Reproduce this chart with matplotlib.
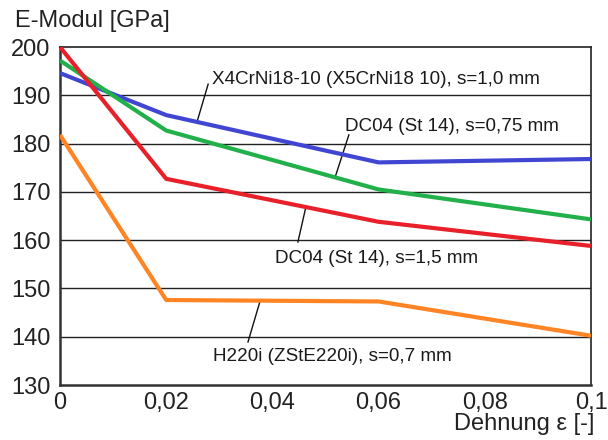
import numpy as np
import matplotlib.pyplot as plt

plt.rcParams['font.family'] = ['Liberation Sans', 'DejaVu Sans']

# Elastic modulus vs. strain for four sheet materials
dehnung = [0.0, 0.02, 0.06, 0.1]
x4crni = [194.6, 185.9, 176.1, 176.8]
dc04_075 = [197.2, 182.7, 170.5, 164.3]
dc04_15 = [200.0, 172.7, 163.8, 158.8]
h220i = [181.8, 147.6, 147.3, 140.2]

labels = ['X4CrNi18-10 (X5CrNi18 10), s=1,0 mm',
          'DC04 (St 14), s=0,75 mm',
          'DC04 (St 14), s=1,5 mm',
          'H220i (ZStE220i), s=0,7 mm']
colors = ['#4046d2', '#22b04a', '#e8202a', '#ff8424']
series = [x4crni, dc04_075, dc04_15, h220i]

xticks = [0, 0.02, 0.04, 0.06, 0.08, 0.1]
xticklabels = ['0', '0,02', '0,04', '0,06', '0,08', '0,1']
yticks = [130, 140, 150, 160, 170, 180, 190, 200]

fig = plt.figure(figsize=(6.08, 4.4), dpi=100)
ax = fig.add_axes([60 / 608, 1 - 385 / 440, 531 / 608, 338 / 440])

for y in yticks[1:-1]:
    ax.axhline(y, color='#222222', lw=1.0, zorder=1)

for vals, c in zip(series, colors):
    ax.plot(dehnung, vals, color=c, lw=3.0, zorder=3, solid_capstyle='butt')

# label text position and leader line (start point, x where it meets the curve)
label_pos = [(0.0286, 193.2), (0.0537, 183.6), (0.0405, 156.3), (0.0288, 135.8)]
leader = [((0.0279, 192.3), 0.0258), ((0.0544, 181.8), 0.0518),
          ((0.0448, 159.6), 0.0463), ((0.0354, 138.9), 0.0377)]

for vals, text, pos, (start, xe) in zip(series, labels, label_pos, leader):
    ax.text(pos[0], pos[1], text, fontsize=13.6, va='center', ha='left',
            color='#1a1a1a', zorder=4)
    ye = np.interp(xe, dehnung, vals)
    ax.plot([start[0], xe], [start[1], ye], color='#111111', lw=1.0, zorder=2)

ax.set_xlim(0, 0.1)
ax.set_ylim(130, 200)
ax.set_xticks(xticks)
ax.set_xticklabels(xticklabels)
ax.set_yticks(yticks)
ax.tick_params(length=0, labelsize=17, colors='#222222')
ax.tick_params(axis='y', pad=7)
ax.tick_params(axis='x', pad=5)

for side in ['left', 'bottom']:
    ax.spines[side].set_linewidth(1.8)
    ax.spines[side].set_color('#333333')
for side in ['top', 'right']:
    ax.spines[side].set_linewidth(1.2)
    ax.spines[side].set_color('#222222')

fig.text(15 / 608, 1 - 21 / 440, 'E-Modul [GPa]', fontsize=17, va='center', ha='left', color='#222222')
fig.text(594 / 608, 1 - 424 / 440, 'Dehnung ε [-]', fontsize=17, va='center', ha='right', color='#222222')

fig.savefig('out.png', dpi=100)
